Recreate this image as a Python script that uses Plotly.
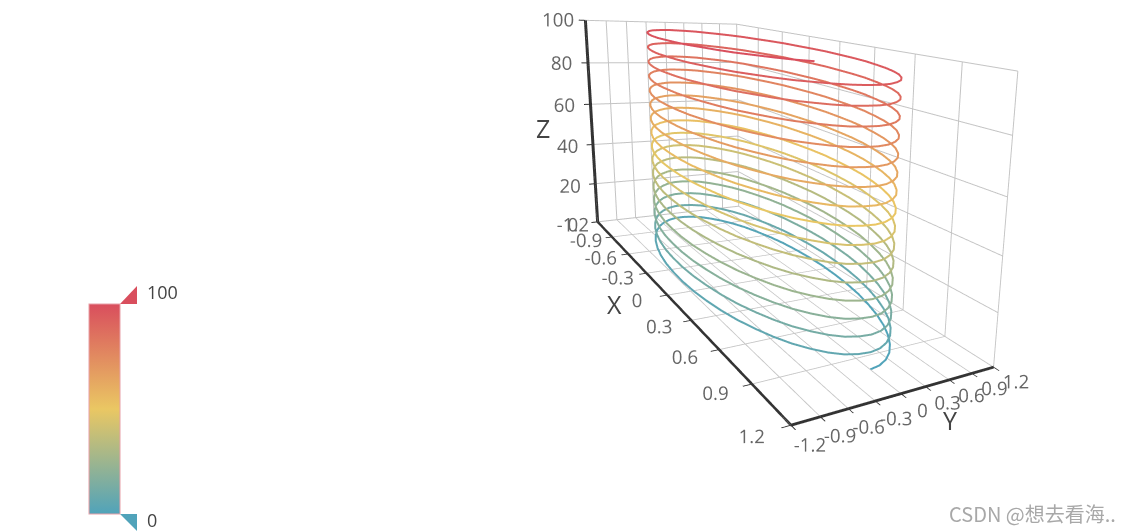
import plotly.graph_objects as go

# One turn of the helix (every 7.5 degrees)
turn_x = [1.0, 0.991, 0.966, 0.924, 0.866, 0.793, 0.707, 0.609, 0.5, 0.383, 0.259, 0.131,
          0.0, -0.131, -0.259, -0.383, -0.5, -0.609, -0.707, -0.793, -0.866, -0.924, -0.966, -0.991,
          -1.0, -0.991, -0.966, -0.924, -0.866, -0.793, -0.707, -0.609, -0.5, -0.383, -0.259, -0.131,
          0.0, 0.131, 0.259, 0.383, 0.5, 0.609, 0.707, 0.793, 0.866, 0.924, 0.966, 0.991]
turn_y = [0.0, 0.131, 0.259, 0.383, 0.5, 0.609, 0.707, 0.793, 0.866, 0.924, 0.966, 0.991,
          1.0, 0.991, 0.966, 0.924, 0.866, 0.793, 0.707, 0.609, 0.5, 0.383, 0.259, 0.131,
          0.0, -0.131, -0.259, -0.383, -0.5, -0.609, -0.707, -0.793, -0.866, -0.924, -0.966, -0.991,
          -1.0, -0.991, -0.966, -0.924, -0.866, -0.793, -0.707, -0.609, -0.5, -0.383, -0.259, -0.131]

heights = [
    0,.1,.3,.4,.5,.7,.8,.9,1.0,1.2,1.3,1.4,1.6,1.7,1.8,2.0,2.1,2.2,2.4,2.5,2.6,2.7,2.9,3.0,3.1,3.3,3.4,3.5,3.7,3.8,3.9,4.1,4.2,4.3,4.4,4.6,4.7,4.8,5.0,5.1,5.2,5.4,5.5,5.6,5.8,5.9,6.0,6.2,
    6.3,6.4,6.6,6.7,6.8,7.0,7.1,7.2,7.3,7.5,7.6,7.7,7.9,8.0,8.1,8.3,8.4,8.5,8.7,8.8,8.9,9.0,9.2,9.3,9.4,9.6,9.7,9.8,10.0,10.1,10.2,10.4,10.5,10.6,10.7,10.9,11.0,11.1,11.3,11.4,11.5,11.7,11.8,11.9,12.1,12.2,12.3,12.5,
    12.6,12.7,12.9,13.0,13.1,13.3,13.4,13.5,13.6,13.8,13.9,14.0,14.2,14.3,14.4,14.6,14.7,14.8,15.0,15.1,15.2,15.3,15.5,15.6,15.7,15.9,16.0,16.1,16.3,16.4,16.5,16.7,16.8,16.9,17.0,17.2,17.3,17.4,17.6,17.7,17.8,18.0,18.1,18.2,18.4,18.5,18.6,18.8,
    18.9,19.0,19.2,19.3,19.4,19.6,19.7,19.8,19.9,20.1,20.2,20.3,20.5,20.6,20.7,20.9,21.0,21.1,21.3,21.4,21.5,21.6,21.8,21.9,22.0,22.2,22.3,22.4,22.6,22.7,22.8,23.0,23.1,23.2,23.3,23.5,23.6,23.7,23.9,24.0,24.1,24.3,24.4,24.5,24.7,24.8,24.9,25.0,
    25.1,25.2,25.4,25.5,25.6,25.8,25.9,26.0,26.1,26.3,26.4,26.5,26.7,26.8,26.9,27.1,27.2,27.3,27.5,27.6,27.7,27.8,28.0,28.1,28.2,28.4,28.5,28.6,28.8,28.9,29.0,29.2,29.3,29.4,29.5,29.7,29.8,29.9,30.1,30.2,30.3,30.5,30.6,30.7,30.9,31.0,31.1,31.3,
    31.4,31.5,31.7,31.8,31.9,32.1,32.2,32.3,32.4,32.6,32.7,32.8,33.0,33.1,33.2,33.4,33.5,33.6,33.8,33.9,34.0,34.1,34.3,34.4,34.5,34.7,34.8,34.9,35.1,35.2,35.3,35.5,35.6,35.7,35.8,36.0,36.1,36.2,36.4,36.5,36.6,36.8,36.9,37.0,37.2,37.3,37.4,37.6,
    37.7,37.8,38.0,38.1,38.2,38.4,38.5,38.6,38.7,38.9,39.0,39.1,39.3,39.4,39.5,39.7,39.8,39.9,40.1,40.2,40.3,40.4,40.6,40.7,40.8,41.0,41.1,41.2,41.4,41.5,41.6,41.8,41.9,42.0,42.1,42.3,42.4,42.5,42.7,42.8,42.9,43.1,43.2,43.3,43.5,43.6,43.7,43.9,
    44.0,44.1,44.3,44.4,44.5,44.7,44.8,44.9,45.0,45.2,45.3,45.4,45.6,45.7,45.8,46.0,46.1,46.2,46.4,46.5,46.6,46.7,46.9,47.0,47.1,47.3,47.4,47.5,47.7,47.8,47.9,48.1,48.2,48.3,48.4,48.6,48.7,48.8,49.0,49.1,49.2,49.4,49.5,49.6,49.8,49.9,50.0,50.2,
    50.3,50.4,50.6,50.7,50.8,51.0,51.1,51.2,51.3,51.5,51.6,51.7,51.9,52.0,52.1,52.3,52.4,52.5,52.7,52.8,52.9,53.0,53.2,53.3,53.4,53.6,53.7,53.8,54.0,54.1,54.2,54.4,54.5,54.6,54.7,54.9,55.0,55.1,55.3,55.4,55.5,55.7,55.8,55.9,56.1,56.2,56.3,56.5,
    56.6,56.7,56.9,57.0,57.1,57.3,57.4,57.5,57.6,57.8,57.9,58.0,58.2,58.3,58.4,58.6,58.7,58.8,59.0,59.1,59.2,59.3,59.5,59.6,59.7,59.9,60.0,60.1,60.3,60.4,60.5,60.7,60.8,60.9,61.0,61.2,61.3,61.4,61.6,61.7,61.8,62.0,62.1,62.2,62.4,62.5,62.6,62.7,
    62.8,62.9,63.1,63.2,63.3,63.5,63.6,63.7,63.8,64.0,64.1,64.2,64.4,64.5,64.6,64.8,64.9,65.0,65.2,65.3,65.4,65.5,65.7,65.8,65.9,66.1,66.2,66.3,66.5,66.6,66.7,66.9,67.0,67.1,67.2,67.4,67.5,67.6,67.8,67.9,68.0,68.2,68.3,68.4,68.6,68.7,68.8,69.0,
    69.1,69.2,69.4,69.5,69.6,69.8,69.9,70.0,70.1,70.3,70.4,70.5,70.7,70.8,70.9,71.1,71.2,71.3,71.5,71.6,71.7,71.8,72.0,72.1,72.2,72.4,72.5,72.6,72.8,72.9,73.0,73.2,73.3,73.4,73.5,73.7,73.8,73.9,74.1,74.2,74.3,74.5,74.6,74.7,74.9,75.0,75.1,75.3,
    75.4,75.5,75.7,75.8,75.9,76.1,76.2,76.3,76.4,76.6,76.7,76.8,77.0,77.1,77.2,77.4,77.5,77.6,77.8,77.9,78.0,78.1,78.3,78.4,78.5,78.7,78.8,78.9,79.1,79.2,79.3,79.5,79.6,79.7,79.8,80.0,80.1,80.2,80.4,80.5,80.6,80.8,80.9,81.0,81.2,81.3,81.4,81.6,
    81.7,81.8,82.0,82.1,82.2,82.4,82.5,82.6,82.7,82.9,83.0,83.1,83.3,83.4,83.5,83.7,83.8,83.9,84.1,84.2,84.3,84.4,84.6,84.7,84.8,85.0,85.1,85.2,85.4,85.5,85.6,85.8,85.9,86.0,86.1,86.3,86.4,86.5,86.7,86.8,86.9,87.1,87.2,87.3,87.5,87.6,87.7,87.9,
    88.0,88.1,88.3,88.4,88.5,88.7,88.8,88.9,89.0,89.2,89.3,89.4,89.6,89.7,89.8,90.0,90.1,90.2,90.4,90.5,90.6,90.7,90.9,91.0,91.1,91.3,91.4,91.5,91.7,91.8,91.9,92.1,92.2,92.3,92.4,92.6,92.7,92.8,93.0,93.1,93.2,93.4,93.5,93.6,93.8,93.9,94.0,94.1,
    94.2,94.3,94.5,94.6,94.7,94.9,95.0,95.1,95.2,95.4,95.5,95.6,95.8,95.9,96.0,96.2,96.3,96.4,96.6,96.7,96.8,96.9,97.1,97.2,97.3,97.5,97.6,97.7,97.9,98.0,98.1,98.3,98.4,98.5,98.6,98.8,98.9,99.0,99.2,99.3,99.4,99.6,99.7,99.8,100.0,
]
x_values = [turn_x[i % 48] for i in range(len(heights))]
y_values = [turn_y[i % 48] for i in range(len(heights))]

axis_ticks = [-1.2, -0.9, -0.6, -0.3, 0, 0.3, 0.6, 0.9, 1.2]
axis_tick_text = ["-1.2", "-0.9", "-0.6", "-0.3", "0", "0.3", "0.6", "0.9", "1.2"]
z_ticks = [0, 20, 40, 60, 80, 100]
color_stops = [[0, "#50a3ba"], [0.5, "#eac763"], [1, "#d94e5d"]]

WT = 1600
HT = 662
OFF = 116


def px(p):
    return p / WT


def py(p):
    return 1 - (p + OFF) / HT


FONT = "Open Sans, Noto Sans, sans-serif"
tick_font = dict(family=FONT, size=15, color="#666666")


def axis(vals=None, text=None, rng=None):
    return dict(
        title=dict(text=""),
        range=rng, tickvals=vals, ticktext=text, tickfont=tick_font, tickangle=0,
        showbackground=False, showgrid=True, gridcolor="#c4c4c4", gridwidth=2,
        showline=True, linecolor="#333333", linewidth=6,
        ticks="outside", ticklen=6, tickcolor="#333333", tickwidth=2,
        zeroline=False, showspikes=False, mirror=False, autorange=False,
    )


fig = go.Figure(go.Scatter3d(
    x=x_values, y=y_values, z=heights, mode="lines",
    line=dict(width=4, color=heights, cmin=0, cmax=100, colorscale=color_stops,
              showscale=True,
              colorbar=dict(x=px(89), xanchor="left", y=py(514), yanchor="bottom",
                            len=210 / HT, lenmode="fraction", thickness=31,
                            thicknessmode="pixels", showticklabels=False, ticks="",
                            outlinewidth=1, outlinecolor="#e8a0a8", xpad=0, ypad=0)),
    hoverinfo="skip",
))


def tri(pts, color):
    path = "M " + " L ".join(f"{px(a):.5f},{py(b):.5f}" for a, b in pts) + " Z"
    return dict(type="path", xref="paper", yref="paper", path=path,
                fillcolor=color, line=dict(width=0))


def label(text, x, y, size, color, family=FONT):
    return dict(text=text, xref="paper", yref="paper", x=px(x), y=py(y), showarrow=False,
                xanchor="left", yanchor="middle", borderpad=0,
                font=dict(family=family, size=size, color=color))


fig.update_layout(
    width=WT, height=HT, margin=dict(l=0, r=0, t=0, b=0),
    paper_bgcolor="white", showlegend=False,
    scene=dict(
        domain=dict(x=[px(270), 1], y=[5 / HT, 1]),
        xaxis=axis(axis_ticks, axis_tick_text, [-1.2, 1.2]),
        yaxis=axis(axis_ticks, axis_tick_text, [-1.2, 1.2]),
        zaxis=axis(z_ticks, [str(v) for v in z_ticks], [0, 100]),
        aspectmode="manual", aspectratio=dict(x=1.169, y=0.388, z=0.516),
        camera=dict(eye=dict(x=1.544, y=-0.653, z=0.37),
                    center=dict(x=0.2405, y=0.2985, z=-0.076),
                    up=dict(x=-0.032, y=-0.045, z=1)),
    ),
    shapes=[tri([(120, 304), (137, 286), (137, 304)], "#d94e5d"),
            tri([(120, 514), (137, 514), (137, 531)], "#50a3ba")],
    annotations=[
        label("100", 146, 292, 18, "#444444"),
        label("0", 146, 520, 18, "#444444"),
        label("X", 606, 304, 25, "#444444"),
        label("Y", 942, 420, 25, "#444444"),
        label("Z", 535, 128, 25, "#444444"),
        label("CSDN @想去看海..", 948, 513, 20, "#a8a8a8", "Noto Sans CJK SC, Open Sans, sans-serif"),
    ],
)

fig.write_html("out.html",
               post_script=f"document.body.style.margin='0';document.body.style.overflow='hidden';"
                           f"document.documentElement.style.overflow='hidden';"
                           f"document.querySelector('.plotly-graph-div').style.marginTop='-{OFF}px';",
               config=dict(displayModeBar=False))
